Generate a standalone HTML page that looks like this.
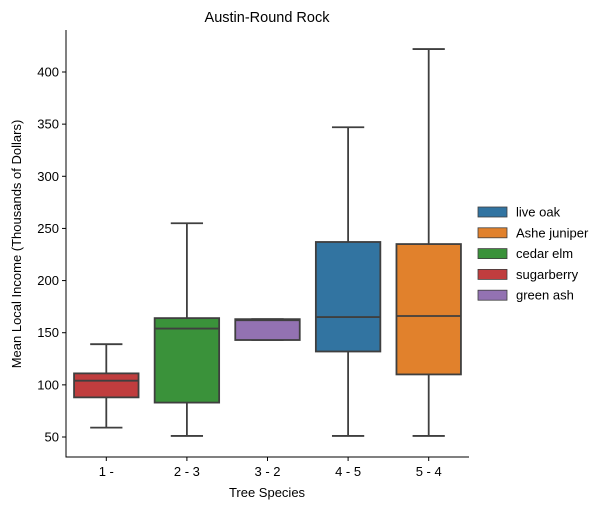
<!DOCTYPE html>
<html><head><meta charset="utf-8"><style>
body{margin:0;background:#fff;}
svg{display:block;font-family:"Liberation Sans","DejaVu Sans",sans-serif;}
</style></head><body>
<svg id="c" width="615" height="510"></svg>
<script>
const categories=["1 -","2 - 3","3 - 2","4 - 5","5 - 4"];
const seriesNames=["sugarberry","cedar elm","green ash","live oak","Ashe juniper"];
const whiskerLow=[59,51,143,51,51];
const q1=[88,83,143,132,110];
const median=[104,154,162,165,166];
const q3=[111,164,163,237,235];
const whiskerHigh=[139,255,163,347,422];
const colors=["#c03d3e","#3a923a","#9372b2","#3274a1","#e1812c"];
const yTicks=[50,100,150,200,250,300,350,400];
const legendNames=["live oak","Ashe juniper","cedar elm","sugarberry","green ash"];
const legendColors=["#3274a1","#e1812c","#3a923a","#c03d3e","#9372b2"];

const NS="http://www.w3.org/2000/svg";
const svg=document.getElementById('c');
function mk(t,a,p){const e=document.createElementNS(NS,t);for(const k in a)e.setAttribute(k,a[k]);(p||svg).appendChild(e);return e;}
const L=66,R=469,T=30,B=457;
const y=v=>437-(v-50)*(365/350);
const bw=(R-L)/categories.length;
const x=i=>L+bw*(i+0.5);
const line="#3f3f3f";

yTicks.forEach(v=>{
  const t=mk('line',{x1:L-4,x2:L,y1:y(v),y2:y(v),stroke:'#000','stroke-width':1});
  
  
  const l=mk('text',{x:L-7,y:y(v)+4.5,'text-anchor':'end','font-size':13});
  l.textContent=v;
  
  
});
categories.forEach((c,i)=>{
  const t=mk('line',{x1:x(i),x2:x(i),y1:B,y2:B+4,stroke:'#000','stroke-width':1});
  
  
  const l=mk('text',{x:x(i),y:B+19,'text-anchor':'middle','font-size':13});
  l.textContent=c;
  
  
});
categories.forEach((c,i)=>{
  const g=mk('g',{});
  
  
  const cx=x(i),hw=bw*0.4,cw=bw*0.2;
  mk('line',{x1:cx,x2:cx,y1:y(q3[i]),y2:y(whiskerHigh[i]),stroke:line,'stroke-width':1.8},g);
  mk('line',{x1:cx,x2:cx,y1:y(q1[i]),y2:y(whiskerLow[i]),stroke:line,'stroke-width':1.8},g);
  mk('line',{x1:cx-cw,x2:cx+cw,y1:y(whiskerHigh[i]),y2:y(whiskerHigh[i]),stroke:line,'stroke-width':1.8},g);
  mk('line',{x1:cx-cw,x2:cx+cw,y1:y(whiskerLow[i]),y2:y(whiskerLow[i]),stroke:line,'stroke-width':1.8},g);
  mk('rect',{x:cx-hw,y:y(q3[i]),width:hw*2,height:y(q1[i])-y(q3[i]),fill:colors[i],stroke:line,'stroke-width':1.8},g);
  mk('line',{x1:cx-hw,x2:cx+hw,y1:y(median[i]),y2:y(median[i]),stroke:line,'stroke-width':1.8},g);
});
const sp=mk('path',{d:`M${L} ${T} V${B} H${R}`,fill:'none',stroke:'#000','stroke-width':1});


const tt=mk('text',{x:267,y:22,'text-anchor':'middle','font-size':14.5});
tt.textContent="Austin-Round Rock";


const xt=mk('text',{x:267,y:497,'text-anchor':'middle','font-size':13});
xt.textContent="Tree Species";


const yt=mk('text',{x:0,y:0,'text-anchor':'middle','font-size':13,transform:'translate(21,244) rotate(-90)'});
yt.textContent="Mean Local Income (Thousands of Dollars)";


legendNames.forEach((n,i)=>{
  const g=mk('g',{});
  
  
  const yy=207+i*20.8;
  mk('rect',{x:478,y:yy,width:29,height:10,fill:legendColors[i],stroke:line,'stroke-width':0.8},g);
  const t=mk('text',{x:516,y:yy+9.5,'font-size':13},g);
  t.textContent=n;
});
</script>
</body></html>
